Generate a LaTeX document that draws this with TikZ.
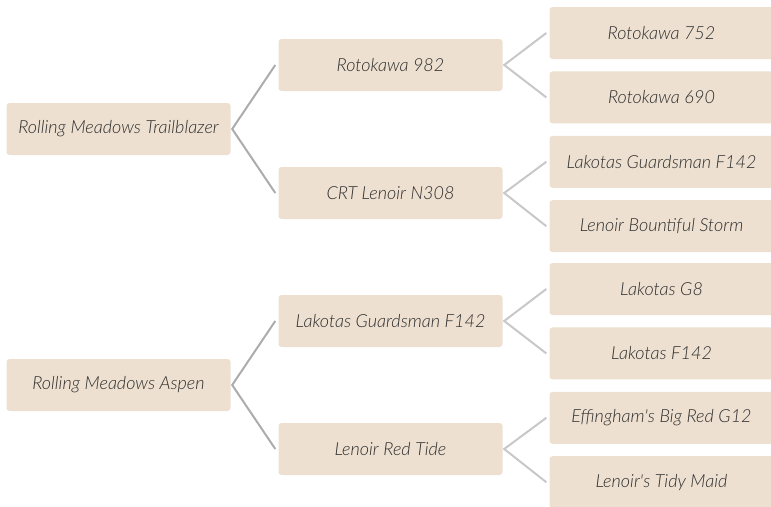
\documentclass[tikz,border=0pt]{standalone}
\usepackage{fontspec}
\IfFontExistsTF{Lato Light}{\setmainfont{Lato Light}}{\setmainfont{Lato}}
\usepackage{xcolor}
\usepackage{tikz}
\usetikzlibrary{positioning}
\definecolor{boxfill}{RGB}{237,224,208}
\definecolor{textgray}{RGB}{45,45,45}
\definecolor{linkdark}{RGB}{172,172,172}
\definecolor{linklight}{RGB}{200,200,200}

\begin{document}
\begin{tikzpicture}[
    x=1pt, y=-1pt,
    card/.style={fill=boxfill, rounded corners=3pt, minimum width=224pt, minimum height=52pt, inner sep=0pt, font=\fontsize{18}{21}\selectfont\itshape, text=textgray, align=center},
    trunk/.style={draw=linkdark, line width=2pt},
    twig/.style={draw=linklight, line width=2pt}
]
    \useasboundingbox (0,0) rectangle (771,506);

    % Roots
    \node[card] (trail) at (118.5,129) {Rolling Meadows Trailblazer};
    \node[card] (aspen) at (118.5,385) {Rolling Meadows Aspen};

    % Middle level
    \node[card] (rot982) at (390.5,65) {Rotokawa 982};
    \node[card] (crt) at (390.5,193) {CRT Lenoir N308};
    \node[card] (guard) at (390.5,321) {Lakotas Guardsman F142};
    \node[card] (redtide) at (390.5,449) {Lenoir Red Tide};

    % Leaves
    \node[card] (rot752) at (661.5,33) {Rotokawa 752};
    \node[card, below=12pt of rot752] (rot690) {Rotokawa 690};
    \node[card, below=12pt of rot690] (guardleaf) {Lakotas Guardsman F142};
    \node[card, below=12pt of guardleaf] (storm) {Lenoir Bountiful Storm};
    \node[card] (g8) at (661.5,289) {Lakotas G8};
    \node[card, below=12pt of g8] (f142) {Lakotas F142};
    \node[card, below=12pt of f142] (effing) {Effingham\textquotesingle s Big Red G12};
    \node[card, below=12pt of effing] (tidy) {Lenoir\textquotesingle s Tidy Maid};

    % Root to middle
    \draw[trunk] ([xshift=-3pt]rot982.west) -- ([xshift=1.5pt]trail.east) -- ([xshift=-3pt]crt.west);
    \draw[trunk] ([xshift=-3pt]guard.west) -- ([xshift=1.5pt]aspen.east) -- ([xshift=-3pt]redtide.west);

    % Middle to leaves
    \draw[twig] ([xshift=-3pt]rot752.west) -- ([xshift=1.5pt]rot982.east) -- ([xshift=-3pt]rot690.west);
    \draw[twig] ([xshift=-3pt]guardleaf.west) -- ([xshift=1.5pt]crt.east) -- ([xshift=-3pt]storm.west);
    \draw[twig] ([xshift=-3pt]g8.west) -- ([xshift=1.5pt]guard.east) -- ([xshift=-3pt]f142.west);
    \draw[twig] ([xshift=-3pt]effing.west) -- ([xshift=1.5pt]redtide.east) -- ([xshift=-3pt]tidy.west);
\end{tikzpicture}
\end{document}
